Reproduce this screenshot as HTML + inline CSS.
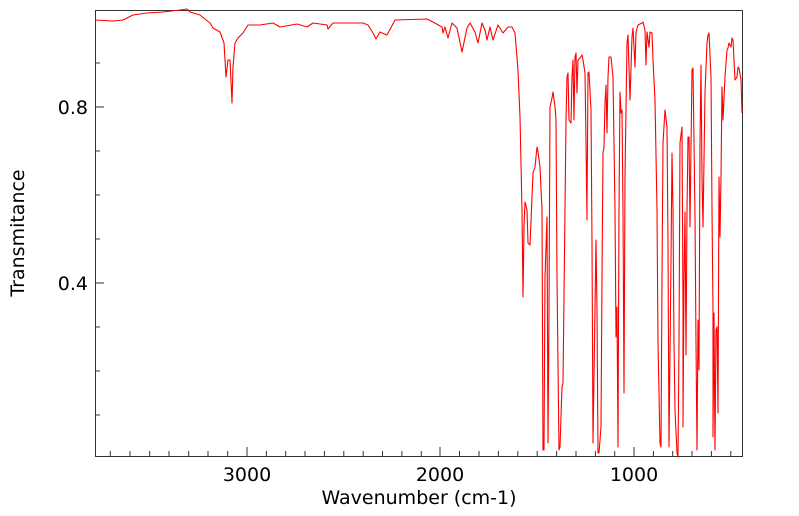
<!DOCTYPE html>
<html><head><meta charset="utf-8"><style>
html,body{margin:0;padding:0;background:#fff;}
svg{display:block;font-family:"DejaVu Sans","Liberation Sans",sans-serif;}
</style></head><body>
<svg width="799" height="516" viewBox="0 0 799 516" xmlns="http://www.w3.org/2000/svg">
<rect x="0" y="0" width="799" height="516" fill="#fff"/>
<g stroke="#333" stroke-width="1" fill="none">
<rect x="95.5" y="10.5" width="647" height="446"/>
<path d="M247,456V447 M440,456V447 M634,456V447
M110.3,456V451 M130,456V451 M149.7,456V451 M169,456V451 M188.7,456V451 M208,456V451 M227.7,456V451
M266.4,456V451 M285.7,456V451 M305,456V451 M324.4,456V451 M343.8,456V451 M363.2,456V451 M382.5,456V451 M401.9,456V451 M421.3,456V451
M459.5,456V451 M479,456V451 M498.4,456V451 M517.8,456V451 M537.2,456V451 M556.6,456V451 M576,456V451 M595.4,456V451 M614.7,456V451
M653.4,456V451 M672.7,456V451 M692,456V451 M711.4,456V451 M730.8,456V451
M96,107H104 M96,283H104
M96,63H100 M96,151H100 M96,195H100 M96,239H100 M96,327H100 M96,371H100 M96,415H100"/>
</g>
<g font-size="19" fill="#000">
<text x="247" y="481" text-anchor="middle">3000</text>
<text x="440" y="481" text-anchor="middle">2000</text>
<text x="634" y="481" text-anchor="middle">1000</text>
<text x="88" y="114" text-anchor="end">0.8</text>
<text x="88" y="290" text-anchor="end">0.4</text>
<text x="419" y="504" text-anchor="middle">Wavenumber (cm-1)</text>
<text transform="translate(24,233) rotate(-90)" text-anchor="middle">Transmitance</text>
</g>
<polyline fill="none" stroke="#f00" stroke-width="1.1" stroke-linejoin="round" points="
95,20 113,21 123,20 133,15 147,13 163,12 180,10 187,9 190,12 200,15 210,23 213,28 220,32 224,43 226,77 228,60 230,60 232,103 233,67 235,43 238,38 243,33 248,25 260,25 273,23 280,27 297,24 307,27 313,23 327,25 328,29 333,23 363,23 368,25 373,33 376,39 380,32 387,35 395,20 427,19 433,22 442,27 443,33 445,27 448,38 452,23 457,28 462,52 467,28 470,23 475,32 478,43 482,23 485,30 487,40 490,27 493,40 498,25 503,33 508,27 512,27 515,33 518,70 520,117 522,210 523,297 524,227 525,202 527,210 528,243 530,245 532,197 533,173 535,167 537,147 538,152 540,167 542,210 543,450 544,450 545,277 547,217 548,443 549,310 550,107 552,98 553,92 555,107 556,120 557,277 559,450 560,447 562,387 563,383 565,210 566,120 567,77 568,73 569,120 571,123 572,77 573,60 574,120 575,57 576,53 577,93 578,60 580,58 582,55 583,60 585,73 586,143 587,220 587,210 588,73 589,72 591,110 592,243 593,443 594,377 596,240 597,310 598,453 599,453 601,427 602,277 603,153 604,147 605,103 606,85 607,133 608,77 609,57 611,57 613,77 615,210 616,337 617,307 618,447 619,210 620,92 621,113 622,110 623,210 624,393 625,177 627,43 628,35 630,100 632,37 633,28 635,67 636,32 638,25 642,23 643,22 645,30 646,65 647,32 649,47 650,32 652,33 653,60 655,100 657,210 658,343 660,443 661,447 662,277 663,143 665,110 667,127 668,243 669,447 671,260 672,153 673,210 674,343 675,410 677,453 678,457 679,343 680,143 682,127 683,310 683,427 684,277 685,212 686,355 687,210 688,137 689,137 690,227 692,70 693,68 694,143 695,217 696,343 697,450 698,320 699,370 700,143 701,65 702,177 703,227 705,93 707,43 708,35 709,33 711,77 712,210 713,310 713,437 714,313 715,450 716,330 717,327 718,413 719,177 720,237 721,177 722,87 723,120 725,77 727,50 728,48 729,43 731,47 732,38 733,40 735,80 737,77 738,67 739,68 741,80 742,113"/>
</svg>
</body></html>
